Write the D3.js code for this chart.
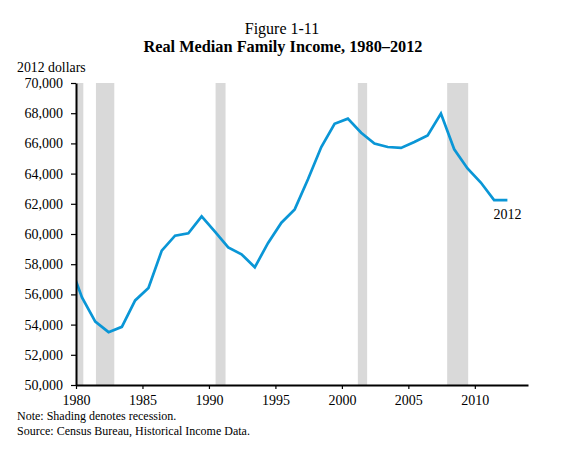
<!DOCTYPE html>
<html>
<head>
<meta charset="utf-8">
<script src="https://cdn.jsdelivr.net/npm/d3@7"></script>
<style>
  body { margin: 0; background: #fff; }
  text { font-family: "Liberation Serif", "Times New Roman", serif; fill: #000; }
</style>
</head>
<body>
<script>
const years = [1979, 1980, 1981, 1982, 1983, 1984, 1985, 1986, 1987, 1988, 1989,
  1990, 1991, 1992, 1993, 1994, 1995, 1996, 1997, 1998, 1999, 2000, 2001, 2002,
  2003, 2004, 2005, 2006, 2007, 2008, 2009, 2010, 2011, 2012];
const income = [58200, 55800, 54200, 53500, 53850, 55600, 56420, 58900, 59890, 60050, 61170,
  60150, 59110, 58660, 57800, 59410, 60750, 61630, 63630, 65760, 67300, 67640, 66710, 65990,
  65760, 65700, 66090, 66530, 67970, 65610, 64340, 63410, 62250, 62250];
// recession periods (fractional years)
const recessions = [[1980.0, 1980.55], [1981.5, 1982.88], [1990.5, 1991.25], [2001.2, 2001.9], [2007.92, 2009.5]];
const xTicks = [1980, 1985, 1990, 1995, 2000, 2005, 2010];
const yTicks = [50000, 52000, 54000, 56000, 58000, 60000, 62000, 64000, 66000, 68000, 70000];

const width = 567;
const height = 465;
const plotLeft = 76, plotRight = 528, plotTop = 83, plotBottom = 385;

const data = years.map((yr, i) => ({ year: yr, value: income[i] }));

const x = d3.scaleLinear().domain([1980, 2014]).range([plotLeft, plotRight]);
const y = d3.scaleLinear().domain([50000, 70000]).range([plotBottom, plotTop]);

const svg = d3.select("body").append("svg")
  .attr("width", width)
  .attr("height", height);

svg.append("clipPath").attr("id", "plot")
  .append("rect")
  .attr("x", plotLeft).attr("y", plotTop)
  .attr("width", plotRight - plotLeft).attr("height", plotBottom - plotTop);

svg.append("g")
  .selectAll("rect")
  .data(recessions)
  .join("rect")
  .attr("x", d => x(d[0]))
  .attr("y", plotTop)
  .attr("width", d => x(d[1]) - x(d[0]))
  .attr("height", plotBottom - plotTop)
  .attr("fill", "#d9d9d9");

// data are annual averages, plotted near mid-year
const line = d3.line()
  .x(d => x(d.year + 0.45))
  .y(d => y(d.value));

svg.append("path")
  .datum(data)
  .attr("clip-path", "url(#plot)")
  .attr("d", line)
  .attr("fill", "none")
  .attr("stroke", "#0a96d6")
  .attr("stroke-width", 2.7)
  .attr("stroke-linejoin", "miter");

const yAxis = svg.append("g")
  .attr("transform", `translate(${plotLeft},0)`)
  .call(d3.axisLeft(y).tickValues(yTicks).tickFormat(d3.format(","))
    .tickSize(5).tickSizeOuter(0).tickPadding(8));

const xAxis = svg.append("g")
  .attr("transform", `translate(0,${plotBottom})`)
  .call(d3.axisBottom(x).tickValues(xTicks).tickFormat(d3.format("d"))
    .tickSize(4).tickSizeOuter(0).tickPadding(6));

[yAxis, xAxis].forEach(g => {
  g.select(".domain").attr("stroke", "#000").attr("stroke-width", 2);
  g.selectAll(".tick line").attr("stroke", "#000").attr("stroke-width", 1.2);
  g.selectAll(".tick text")
    .attr("fill", "#000")
    .style("font-family", "'Liberation Serif', serif")
    .style("font-size", "14px");
});

const last = data[data.length - 1];
svg.append("text")
  .attr("x", x(last.year + 0.45))
  .attr("y", y(last.value) + 19)
  .attr("text-anchor", "middle")
  .style("font-size", "14px")
  .text("2012");

svg.append("text")
  .attr("x", 282).attr("y", 34)
  .attr("text-anchor", "middle")
  .style("font-size", "16px")
  .text("Figure 1-11");

svg.append("text")
  .attr("x", 283).attr("y", 52)
  .attr("text-anchor", "middle")
  .style("font-size", "16.3px")
  .style("font-weight", "bold")
  .text("Real Median Family Income, 1980–2012");

svg.append("text")
  .attr("x", 17).attr("y", 72)
  .style("font-size", "13.8px")
  .text("2012 dollars");

svg.append("text")
  .attr("x", 17).attr("y", 420)
  .style("font-size", "12px")
  .text("Note: Shading denotes recession.");

svg.append("text")
  .attr("x", 17).attr("y", 435)
  .style("font-size", "12px")
  .text("Source: Census Bureau, Historical Income Data.");
</script>
</body>
</html>
